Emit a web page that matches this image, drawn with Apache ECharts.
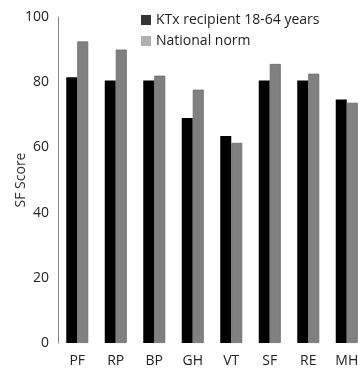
<!DOCTYPE html>
<html><head><meta charset="utf-8">
<script src="https://cdn.jsdelivr.net/npm/echarts@6/dist/echarts.min.js"></script>
<style>html,body{margin:0;padding:0;background:#fff}#c{width:358px;height:370px}</style>
</head><body><div id="c"></div>
<script>
var categories = ['PF','RP','BP','GH','VT','SF','RE','MH'];
var ktx = [81.5, 80.5, 80.5, 69, 63.5, 80.5, 80.5, 74.7];
var norm = [92.5, 90, 82, 77.7, 61.4, 85.6, 82.6, 73.7];
var yTicks = [0, 20, 40, 60, 80, 100];
var seriesNames = ['KTx recipient 18-64 years', 'National norm'];

var chart = echarts.init(document.getElementById('c'));
var font = 'Open Sans';
chart.setOption({
  animation: false,
  grid: {left: 58, top: 17, bottom: 27, right: -8, containLabel: false, outerBoundsMode: 'none'},
  legend: {
    left: 136, top: 8, orient: 'vertical', itemGap: 7,
    itemWidth: 10, itemHeight: 10, icon: 'rect',
    textStyle: {fontFamily: font, fontSize: 14, color: '#222'},
    data: [
      {name: seriesNames[0], itemStyle: {color: '#333', borderWidth: 0}},
      {name: seriesNames[1], itemStyle: {color: '#b0b0b0', borderWidth: 0}}
    ]
  },
  xAxis: {
    type: 'category', data: categories,
    axisLine: {show: false}, axisTick: {show: false},
    axisLabel: {fontFamily: font, fontSize: 14, color: '#222', margin: 11}
  },
  yAxis: {
    type: 'value', min: yTicks[0], max: yTicks[yTicks.length-1], interval: 20,
    name: 'SF Score', nameLocation: 'middle', nameGap: 30, nameMoveOverlap: false,
    nameTextStyle: {fontFamily: font, fontSize: 14, color: '#333'},
    axisLine: {show: true, lineStyle: {color: '#888', width: 1}},
    axisTick: {show: false}, splitLine: {show: false},
    axisLabel: {fontFamily: font, fontSize: 14, color: '#222', margin: 9}
  },
  series: [
    {name: seriesNames[0], type: 'bar', data: ktx, barWidth: 11, barGap: '0%',
     itemStyle: {color: '#000'}},
    {name: seriesNames[1], type: 'bar', data: norm, barWidth: 11,
     itemStyle: {color: '#808080', borderColor: '#6a6a6a', borderWidth: 0.8}}
  ]
});
</script></body></html>
